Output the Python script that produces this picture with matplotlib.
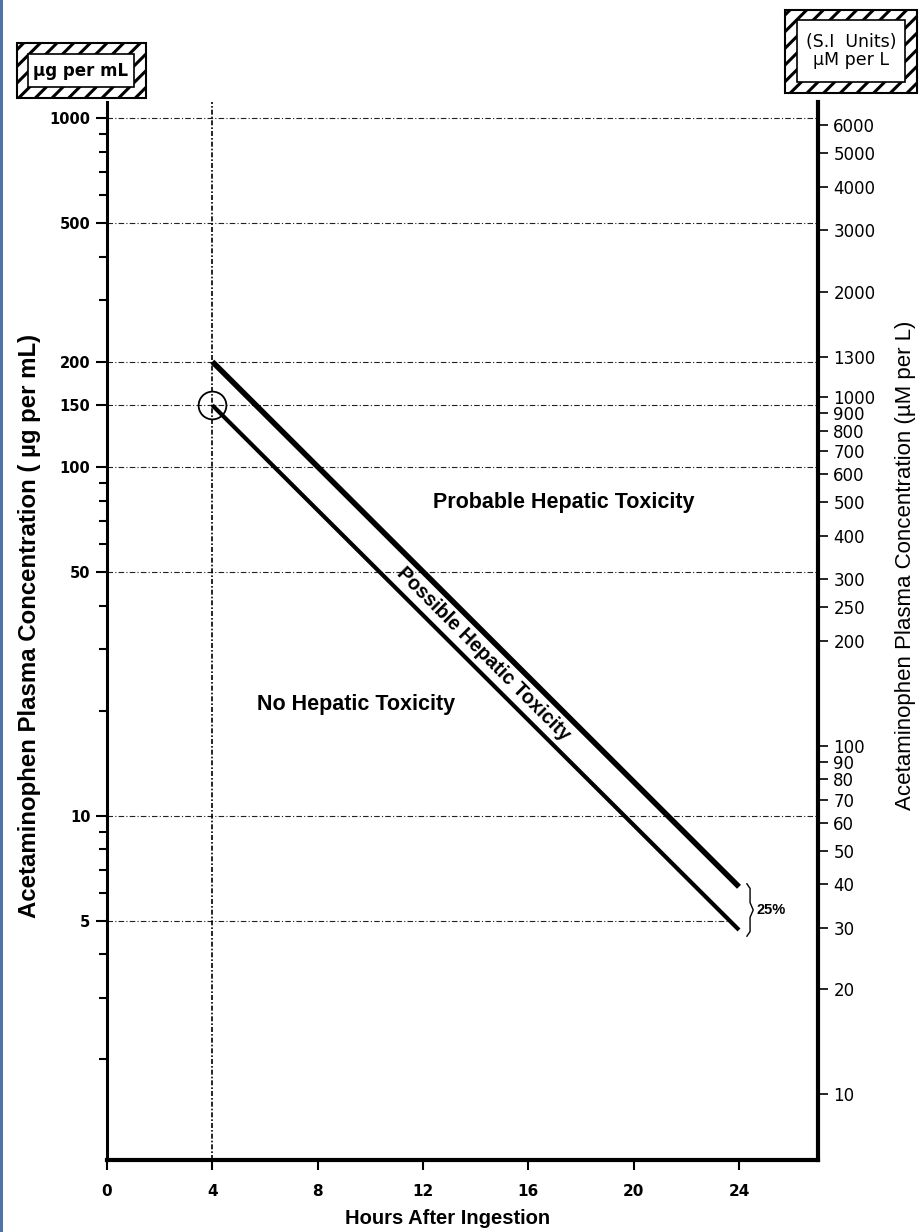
import numpy as np
import matplotlib
matplotlib.use('Agg')
import matplotlib.pyplot as plt
from matplotlib.patches import Rectangle
from matplotlib.ticker import FixedLocator, NullLocator, FixedFormatter, NullFormatter

# ---------------- data ----------------
hours_line = [4, 24]
upper_line = [200, 6.25]     # µg/mL  (treatment line)
lower_line = [150, 4.7]      # µg/mL  (25 % lower line)
x_ticks = [0, 4, 8, 12, 16, 20, 24]
y_major = [1000, 500, 200, 150, 100, 50, 10, 5]
y_major_labels = ['1000', '500', '200', '150', '100', '50', '10', '5']
grid_levels = [1000, 500, 200, 150, 100, 50, 10]
partial_grid_level = 5
si_ticks = [6000, 5000, 4000, 3000, 2000, 1300, 1000, 900, 800, 700, 600,
            500, 400, 300, 250, 200, 100, 90, 80, 70, 60, 50, 40, 30, 20, 10]
UM_PER_UG = 6.3

W, H = 924, 1232
fig = plt.figure(figsize=(W / 100, H / 100), dpi=100)
fig.patch.set_facecolor('white')

def fx(px):
    return px / W

def fy(py):
    return 1 - py / H

L, R, T, B = 107, 818, 102, 1160
ax = fig.add_axes([fx(L), fy(B), (R - L) / W, (B - T) / H])
ax.set_yscale('log')
ax.set_xlim(0, 27)
ax.set_ylim(1.03, 1110)

# spines
ax.spines['top'].set_visible(False)
ax.spines['right'].set_visible(False)
ax.spines['left'].set_linewidth(2.2)
ax.spines['bottom'].set_linewidth(3.0)

TICKFONT = 'DejaVu Sans'
# x ticks
ax.set_xticks(x_ticks)
ax.set_xticklabels([str(v) for v in x_ticks], fontsize=11, fontweight='bold', family=TICKFONT)
ax.tick_params(axis='x', direction='out', length=7, width=1.5, pad=10)

# left y ticks
ax.yaxis.set_major_locator(FixedLocator(y_major))
ax.yaxis.set_major_formatter(FixedFormatter(y_major_labels))
minor = []
for dec in [1, 10, 100]:
    for m in range(2, 10):
        v = dec * m
        if v not in y_major:
            minor.append(v)
ax.yaxis.set_minor_locator(FixedLocator(minor))
ax.yaxis.set_minor_formatter(NullFormatter())
ax.tick_params(axis='y', which='major', direction='out', length=8, width=1.5, pad=4,
               labelsize=10.5)
ax.tick_params(axis='y', which='minor', direction='out', length=6, width=1.5)
for lab in ax.get_yticklabels():
    lab.set_fontweight('bold')
    lab.set_family(TICKFONT)

# right (SI) axis
sec = ax.secondary_yaxis('right', functions=(lambda v: v * UM_PER_UG, lambda v: v / UM_PER_UG))
sec.set_yticks(si_ticks)
sec.set_yticklabels([str(v) for v in si_ticks])
sec.yaxis.set_minor_locator(NullLocator())
sec.tick_params(axis='y', direction='out', length=7, width=1.2, pad=4, labelsize=12)
for lab in sec.get_yticklabels():
    lab.set_family(TICKFONT)
sec.spines['right'].set_linewidth(3.0)

# grid lines
gstyle = dict(color='#222222', linewidth=0.8, linestyle=(0, (5, 2, 1, 2)), zorder=1)
for g in grid_levels:
    ax.axhline(g, **gstyle)
x_end5 = np.interp(np.log10(partial_grid_level), np.log10(lower_line[::-1]), hours_line[::-1])
ax.plot([0, x_end5], [partial_grid_level] * 2, **gstyle)
ax.axvline(hours_line[0], color='black', linewidth=1.2, linestyle=(0, (3, 1.2, 1, 1.2)), zorder=1)

# nomogram lines
ax.plot(hours_line, upper_line, color='black', linewidth=4.0, solid_capstyle='butt', zorder=3)
ax.plot(hours_line, lower_line, color='black', linewidth=3.0, solid_capstyle='butt', zorder=3)
ax.plot(hours_line[0], lower_line[0], marker='o', ms=20, mfc='none', mec='black', mew=1.3, zorder=4)

# brace and 25 %
top = upper_line[-1] * 1.02
bot = lower_line[-1] * 0.96
mid = np.sqrt(top * bot)
x0, w = 24.3, 0.12
ax.plot([x0, x0 + w, x0 + w, x0 + 2 * w, x0 + w, x0 + w, x0],
        [top, top * 0.97, mid * 1.05, mid, mid / 1.05, bot / 0.97, bot],
        color='black', linewidth=1.0, clip_on=False)
ax.text(x0 + 2 * w + 0.12, mid, '25%', fontsize=10.5, fontweight='bold', va='center', ha='left',
        family='Liberation Sans')

# region labels
TF = 'Liberation Sans'
ax.text(17.33, 79, 'Probable Hepatic Toxicity', fontsize=15.5, fontweight='bold', ha='center',
        va='center', family=TF)
ax.text(9.45, 20.8, 'No Hepatic Toxicity', fontsize=15.5, fontweight='bold', ha='center',
        va='center', family=TF)
# "Possible" label centred in the band between the two lines
xp = 14.3
log_up = np.interp(xp, hours_line, np.log10(upper_line))
log_lo = np.interp(xp, hours_line, np.log10(lower_line))
yp = 10 ** ((log_up + log_lo) / 2)
ax.text(xp, yp, 'Possible Hepatic Toxicity', fontsize=14.2, fontweight='bold', ha='center',
        va='center', rotation=-45, rotation_mode='anchor', family=TF, zorder=5)

# axis labels
fig.text(fx(448), fy(1218), 'Hours After Ingestion', fontsize=14.5, fontweight='bold',
         ha='center', va='center', family=TF)
fig.text(fx(30), fy(626), 'Acetaminophen Plasma Concentration ( µg per mL)', fontsize=17.3,
         fontweight='bold', ha='center', va='center', rotation=90, family=TF)
fig.text(fx(905), fy(565), 'Acetaminophen Plasma Concentration (µM per L)', fontsize=16,
         ha='center', va='center', rotation=90, family=TF)

# hatched unit boxes
plt.rcParams['hatch.linewidth'] = 2.2

def unit_box(ox0, oy0, ox1, oy1, ix0, iy0, ix1, iy1, text, fs, weight):
    fig.add_artist(Rectangle((fx(ox0), fy(oy1)), (ox1 - ox0) / W, (oy1 - oy0) / H,
                             transform=fig.transFigure, facecolor='white', edgecolor='black',
                             hatch='//', linewidth=1.5))
    fig.add_artist(Rectangle((fx(ix0), fy(iy1)), (ix1 - ix0) / W, (iy1 - iy0) / H,
                             transform=fig.transFigure, facecolor='white', edgecolor='black',
                             linewidth=1.2))
    fig.text(fx((ix0 + ix1) / 2), fy((iy0 + iy1) / 2), text, fontsize=fs, ha='center',
             va='center', family='DejaVu Sans', fontweight=weight, linespacing=1.05)

unit_box(17, 43, 146, 98, 28, 54, 134, 87, 'µg per mL', 12, 'bold')
unit_box(785, 10, 917, 93, 797, 20, 905, 82, '(S.I  Units)\nµM per L', 12.5, 'normal')

# blue left border
fig.add_artist(Rectangle((0, 0), 3 / W, 1, transform=fig.transFigure, facecolor='#4f74a8',
                         edgecolor='none'))

fig.savefig('out.png', dpi=100)
